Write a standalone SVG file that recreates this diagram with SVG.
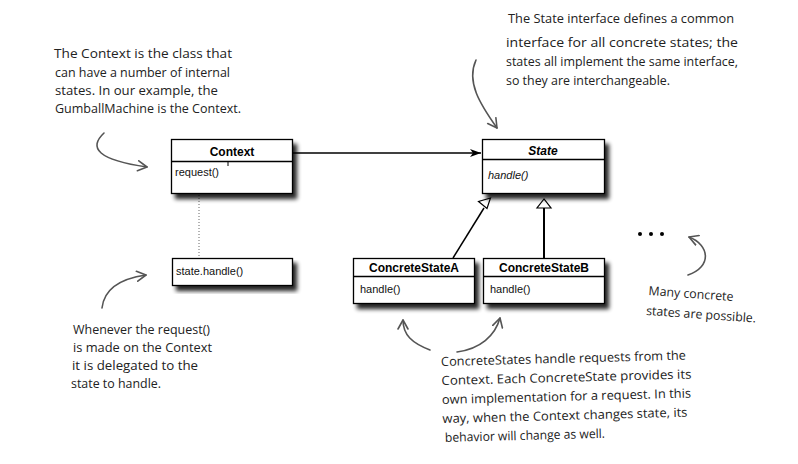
<svg xmlns="http://www.w3.org/2000/svg" width="798" height="464" viewBox="0 0 798 464">
<style>
.box{fill:#fff;stroke:#000;stroke-width:1.3}
.div{stroke:#000;stroke-width:1.3}
.title{font-family:"Liberation Sans",Arial,sans-serif;font-weight:bold;font-size:12px;fill:#000;text-anchor:middle}
.op{font-family:"Liberation Sans",Arial,sans-serif;font-size:11px;fill:#111}
.note{font-family:"Open Sans","DejaVu Sans",sans-serif;font-size:12.5px;fill:#222}
.hand{fill:none;stroke:#555;stroke-width:1.6;stroke-linecap:round}
</style>
<defs>
<filter id="sh" x="-10%" y="-10%" width="130%" height="140%">
<feGaussianBlur in="SourceAlpha" stdDeviation="2.2"/>
<feOffset dx="4" dy="5" result="b"/>
<feComponentTransfer><feFuncA type="linear" slope="0.85"/></feComponentTransfer>
<feMerge><feMergeNode/><feMergeNode in="SourceGraphic"/></feMerge>
</filter>
<marker id="fill" markerWidth="12" markerHeight="10" refX="11" refY="5" orient="auto" markerUnits="userSpaceOnUse">
<path d="M0,1 L11,5 L0,9 L3,5 Z" fill="#000"/>
</marker>
<marker id="open" markerWidth="12" markerHeight="12" refX="10" refY="6" orient="auto" markerUnits="userSpaceOnUse">
<path d="M1,1 L10,6 L1,11" fill="none" stroke="#555" stroke-width="1.6" stroke-linecap="round" stroke-linejoin="round"/>
</marker>
</defs>
<rect width="798" height="464" fill="#fff"/>

<g id="connectors">
<line x1="293" y1="153" x2="481" y2="153" stroke="#000" stroke-width="1.3" marker-end="url(#fill)"/>
<line x1="199" y1="180" x2="199" y2="258" stroke="#666" stroke-width="1" stroke-dasharray="1,2"/>
<line x1="453" y1="258" x2="484" y2="208" stroke="#000" stroke-width="1.5"/>
<path d="M490.5,198 L478.5,201.5 L487,208.5 Z" fill="#fff" stroke="#000" stroke-width="1.2"/>
<line x1="544" y1="258" x2="544" y2="208" stroke="#000" stroke-width="2"/>
<path d="M544,199 L537,208 L551,208 Z" fill="#fff" stroke="#000" stroke-width="1.2"/>
</g>

<g id="context" filter="url(#sh)">
<rect class="box" x="171.5" y="139.5" width="121" height="54"/>
<line class="div" x1="171.5" y1="161.5" x2="292.5" y2="161.5"/>
</g>
<g id="context-text">
<text class="title" x="232" y="156">Context</text>
<line x1="228" y1="161" x2="228" y2="166" stroke="#000" stroke-width="1"/>
<text class="op" x="175" y="176">request()</text>
</g>

<g id="state" filter="url(#sh)">
<rect class="box" x="482.5" y="139.5" width="122" height="54"/>
<line class="div" x1="482.5" y1="159.5" x2="604.5" y2="159.5"/>
</g>
<g id="state-text">
<text class="title" x="543" y="155" font-style="italic">State</text>
<text class="op" x="488" y="179" font-style="italic">handle()</text>
</g>

<g id="statehandle" filter="url(#sh)">
<rect class="box" x="172.5" y="258.5" width="120" height="27"/>
</g>
<text class="op" x="176" y="275">state.handle()</text>

<g id="concreteA" filter="url(#sh)">
<rect class="box" x="353.5" y="258.5" width="121" height="45"/>
<line class="div" x1="353.5" y1="276.5" x2="474.5" y2="276.5"/>
</g>
<g id="concreteA-text">
<text class="title" x="414" y="272">ConcreteStateA</text>
<text class="op" x="360" y="293">handle()</text>
</g>

<g id="concreteB" filter="url(#sh)">
<rect class="box" x="483.5" y="258.5" width="121" height="45"/>
<line class="div" x1="483.5" y1="276.5" x2="604.5" y2="276.5"/>
</g>
<g id="concreteB-text">
<text class="title" x="544" y="272">ConcreteStateB</text>
<text class="op" x="490" y="293">handle()</text>
</g>

<g id="dots" fill="#000">
<circle cx="640" cy="234" r="2"/>
<circle cx="651" cy="234" r="2"/>
<circle cx="662" cy="234" r="2"/>
</g>

<g id="notes-arrows">
<path class="hand" d="M104,133 C88,148 98,160 147,167" marker-end="url(#open)"/>
<path class="hand" d="M102,308 C104,290 118,279 146,275" marker-end="url(#open)"/>
<path class="hand" d="M476,60 C466,82 480,104 497,128" marker-end="url(#open)"/>
<path class="hand" d="M430,350 C412,343 403,335 403,320" marker-end="url(#open)"/>
<path class="hand" d="M457,352 C480,349 495,336 500,318" marker-end="url(#open)"/>
<path class="hand" d="M688,275 C712,267 710,245 689,237" marker-end="url(#open)"/>
</g>

<g id="note-context" class="note">
<text x="54" y="58" textLength="178" lengthAdjust="spacingAndGlyphs">The Context is the class that</text>
<text x="55" y="77" textLength="175" lengthAdjust="spacingAndGlyphs">can have a number of internal</text>
<text x="55" y="95" textLength="163" lengthAdjust="spacingAndGlyphs">states.  In our example, the</text>
<text x="55" y="113" textLength="186" lengthAdjust="spacingAndGlyphs">GumballMachine is the Context.</text>
</g>

<g id="note-state" class="note">
<text x="508" y="23" textLength="226" lengthAdjust="spacingAndGlyphs">The State interface defines a common</text>
<text x="506" y="47" textLength="232" lengthAdjust="spacingAndGlyphs">interface for all concrete states;  the</text>
<text x="506" y="66" textLength="232" lengthAdjust="spacingAndGlyphs">states all implement the same interface,</text>
<text x="506" y="85" textLength="164" lengthAdjust="spacingAndGlyphs">so they are interchangeable.</text>
</g>

<g id="note-delegate" class="note">
<text x="73" y="334" textLength="137" lengthAdjust="spacingAndGlyphs">Whenever the request()</text>
<text x="73" y="352" textLength="139" lengthAdjust="spacingAndGlyphs">is made on the Context</text>
<text x="72" y="370" textLength="126" lengthAdjust="spacingAndGlyphs">it is delegated to the</text>
<text x="71" y="388" textLength="90" lengthAdjust="spacingAndGlyphs">state to handle.</text>
</g>

<g id="note-concrete" class="note" transform="rotate(-1.5 442 400)">
<text x="442" y="366" textLength="245" lengthAdjust="spacingAndGlyphs">ConcreteStates handle requests from the</text>
<text x="442" y="385" textLength="250" lengthAdjust="spacingAndGlyphs">Context. Each ConcreteState provides its</text>
<text x="442" y="404" textLength="249" lengthAdjust="spacingAndGlyphs">own implementation for a request.  In this</text>
<text x="442" y="423" textLength="245" lengthAdjust="spacingAndGlyphs">way, when the Context changes state, its</text>
<text x="444" y="442" textLength="160" lengthAdjust="spacingAndGlyphs">behavior will change as well.</text>
</g>

<g id="note-many" class="note" transform="rotate(4 648 300)">
<text x="648" y="295" textLength="85" lengthAdjust="spacingAndGlyphs">Many concrete</text>
<text x="647" y="315" textLength="110" lengthAdjust="spacingAndGlyphs">states are possible.</text>
</g>
</svg>
